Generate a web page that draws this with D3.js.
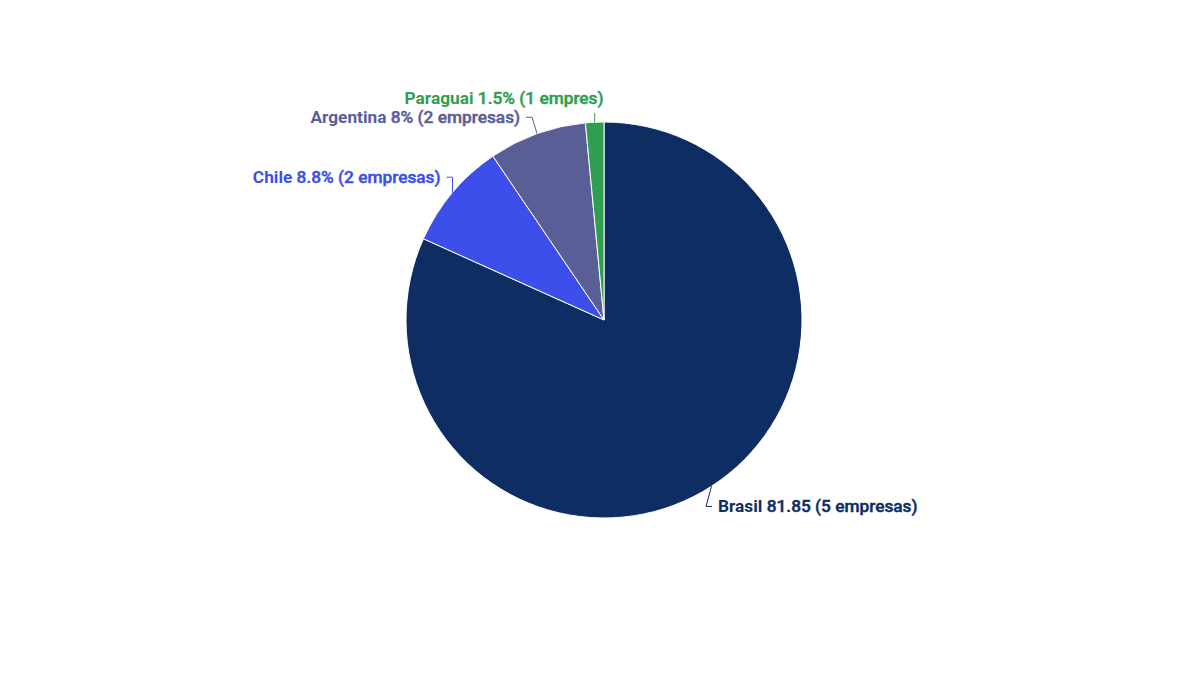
<!DOCTYPE html>
<html>
<head>
<meta charset="utf-8">
<script src="https://cdn.jsdelivr.net/npm/d3@7"></script>
<style>
  html, body { margin: 0; padding: 0; background: #ffffff; }
  svg { display: block; font-family: Roboto, "Noto Sans", sans-serif; }
</style>
</head>
<body>
<svg id="chart" width="1200" height="675"></svg>
<script>
// ---- data ----
const countries = ["Brasil", "Chile", "Argentina", "Paraguai"];
const shares = [81.85, 8.8, 8, 1.5];
const valueLabels = ["81.85 (5 empresas)", "8.8% (2 empresas)", "8% (2 empresas)", "1.5% (1 empres)"];
const colors = ["#0e2d63", "#3d4fea", "#5a5e97", "#2f9e4f"];

// ---- layout ----
const cx = 604, cy = 320, R = 198;
const labelDist = 24;
const labelSpacing = 19;

const svg = d3.select("#chart");
const g = svg.append("g").attr("transform", `translate(${cx},${cy})`);

const data = countries.map((c, i) => ({ name: c, value: shares[i], text: valueLabels[i], color: colors[i] }));

const pie = d3.pie().value(d => d.value).sort(null);
const arcs = pie(data);
const arc = d3.arc().innerRadius(0).outerRadius(R);

g.selectAll("path.slice")
  .data(arcs)
  .join("path")
  .attr("class", "slice")
  .attr("d", arc)
  .attr("fill", d => d.data.color)
  .attr("stroke", "#ffffff")
  .attr("stroke-width", 1)
  .attr("stroke-linejoin", "round");

function pt(angle, r) {
  return [Math.sin(angle) * r, -Math.cos(angle) * r];
}

const RL = R + labelDist;
const labels = arcs.map(a => {
  const mid = (a.startAngle + a.endAngle) / 2;
  const right = Math.sin(mid) > 0;
  const nearTop = Math.abs(Math.sin(mid)) < 0.12;
  const pa = pt(mid, RL);
  return { a, mid, right, nearTop, y: pa[1] };
});

// simple overlap avoidance per side (push downward)
[true, false].forEach(side => {
  const ls = labels.filter(l => l.right === side).sort((p, q) => p.y - q.y);
  for (let i = 1; i < ls.length; i++) {
    if (ls[i].y - ls[i - 1].y < labelSpacing) ls[i].y = ls[i - 1].y + labelSpacing;
  }
});

labels.forEach(l => {
  const a = l.a;
  const dir = l.right ? 1 : -1;
  const s = Math.max(-1, Math.min(1, l.y / RL));
  const xc = dir * Math.cos(Math.asin(s)) * RL;
  let lx, anchor;
  if (l.nearTop) {
    lx = xc - dir * 10; anchor = "end";
  } else {
    lx = xc - dir * 6.5; anchor = l.right ? "start" : "end";
  }
  const ly = l.y;
  const p0 = pt(l.mid, R);
  let pts;
  if (l.nearTop) {
    pts = [p0, [p0[0], ly + 15]];
  } else {
    const E = [lx - dir * 6, ly];
    const B = [E[0] - dir * 6, ly];
    pts = [p0, B, E];
  }
  g.append("path")
    .attr("d", d3.line()(pts))
    .attr("fill", "none")
    .attr("stroke", a.data.color)
    .attr("stroke-width", 1);

  const t = g.append("text")
    .attr("x", lx)
    .attr("y", ly)
    .attr("dy", "0.35em")
    .attr("text-anchor", anchor)
    .attr("fill", a.data.color)
    .style("font-size", "17.3px");
  t.append("tspan").attr("font-weight", 700).text(a.data.name + " ");
  t.append("tspan").attr("font-weight", 500)
    .attr("stroke", a.data.color).attr("stroke-width", 0.45)
    .text(a.data.text);
});
</script>
</body>
</html>
